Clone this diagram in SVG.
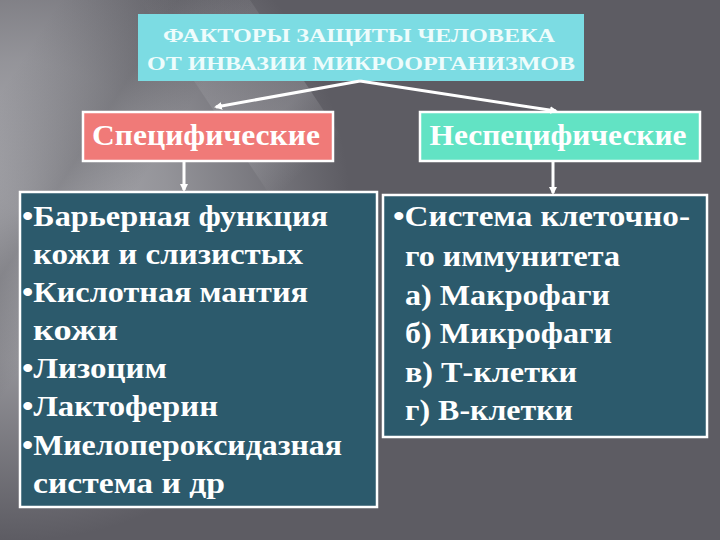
<svg xmlns="http://www.w3.org/2000/svg" width="720" height="540" viewBox="0 0 720 540">
<defs>
<radialGradient id="lightL" cx="20" cy="210" r="330" gradientUnits="userSpaceOnUse">
<stop offset="0" stop-color="#b4b4b9" stop-opacity="1"/>
<stop offset="0.45" stop-color="#a2a2a7" stop-opacity="0.8"/>
<stop offset="1" stop-color="#a2a2a7" stop-opacity="0"/>
</radialGradient>
<linearGradient id="dark" x1="60" y1="0" x2="200" y2="90" gradientUnits="userSpaceOnUse">
<stop offset="0" stop-color="#4a4a50" stop-opacity="0"/>
<stop offset="0.6" stop-color="#4a4a50" stop-opacity="0.35"/>
<stop offset="1" stop-color="#4a4a50" stop-opacity="0"/>
</linearGradient>
<linearGradient id="streak" x1="0" y1="0" x2="1" y2="1">
<stop offset="0" stop-color="#b8b8bd" stop-opacity="0"/>
<stop offset="0.45" stop-color="#b8b8bd" stop-opacity="0.35"/>
<stop offset="0.6" stop-color="#b8b8bd" stop-opacity="0"/>
</linearGradient>
<marker id="ah" markerWidth="8" markerHeight="8" refX="6" refY="4" orient="auto" markerUnits="userSpaceOnUse">
<path d="M0,0 L8,4 L0,8 z" fill="#ffffff"/>
</marker>
<style>
.box{stroke:#ffffff;stroke-width:2.5}
.title{font-size:19px}
.hdr{font-size:30px}
.item{font-size:29px}
.conn{stroke:#ffffff;stroke-width:3;fill:none;marker-end:url(#ah)}
</style>
</defs>
<rect x="0" y="0" width="720" height="540" fill="#5d5c63"/>
<rect x="0" y="0" width="720" height="540" fill="url(#lightL)"/>
<rect x="0" y="0" width="720" height="540" fill="url(#dark)"/>
<polygon points="140,0 250,0 430,270 320,270" fill="url(#streak)" opacity="0.8"/>

<g id="title" font-family="Liberation Serif, serif" font-weight="bold" fill="#eefcfc">
<rect x="138" y="14" width="446" height="67" fill="#7cdce3"/>
<text class="title" x="359" y="42" text-anchor="middle" textLength="392" lengthAdjust="spacingAndGlyphs">ФАКТОРЫ ЗАЩИТЫ ЧЕЛОВЕКА</text>
<text class="title" x="361" y="70" text-anchor="middle" textLength="428" lengthAdjust="spacingAndGlyphs">ОТ ИНВАЗИИ МИКРООРГАНИЗМОВ</text>
</g>

<g id="specific" font-family="Liberation Serif, serif" font-weight="bold" fill="#ffffff">
<rect class="box" x="83" y="112" width="250" height="49" fill="#f07a78"/>
<text class="hdr" x="206" y="145" text-anchor="middle" textLength="228" lengthAdjust="spacingAndGlyphs">Специфические</text>
</g>

<g id="nonspecific" font-family="Liberation Serif, serif" font-weight="bold" fill="#ffffff">
<rect class="box" x="420" y="112" width="280" height="49" fill="#62e3c4"/>
<text class="hdr" x="558" y="145" text-anchor="middle" textLength="257" lengthAdjust="spacingAndGlyphs">Неспецифические</text>
</g>

<g id="specific-list" font-family="Liberation Serif, serif" font-weight="bold" fill="#ffffff">
<rect class="box" x="20" y="192" width="357" height="315" fill="#2c5a6c"/>
<text class="item" x="22" y="226" textLength="306" lengthAdjust="spacingAndGlyphs">•Барьерная функция</text>
<text class="item" x="33" y="264" textLength="270" lengthAdjust="spacingAndGlyphs">кожи и слизистых</text>
<text class="item" x="22" y="302" textLength="286" lengthAdjust="spacingAndGlyphs">•Кислотная мантия</text>
<text class="item" x="33" y="340" textLength="85" lengthAdjust="spacingAndGlyphs">кожи</text>
<text class="item" x="22" y="378" textLength="145" lengthAdjust="spacingAndGlyphs">•Лизоцим</text>
<text class="item" x="22" y="416" textLength="196" lengthAdjust="spacingAndGlyphs">•Лактоферин</text>
<text class="item" x="22" y="455" textLength="320" lengthAdjust="spacingAndGlyphs">•Миелопероксидазная</text>
<text class="item" x="33" y="493" textLength="192" lengthAdjust="spacingAndGlyphs">система и др</text>
</g>

<g id="nonspecific-list" font-family="Liberation Serif, serif" font-weight="bold" fill="#ffffff">
<rect class="box" x="383" y="195" width="324" height="242" fill="#2c5a6c"/>
<text class="item" x="393" y="226" textLength="297" lengthAdjust="spacingAndGlyphs">•Система клеточно-</text>
<text class="item" x="405" y="266" textLength="215" lengthAdjust="spacingAndGlyphs">го иммунитета</text>
<text class="item" x="405" y="305" textLength="205" lengthAdjust="spacingAndGlyphs">а) Макрофаги</text>
<text class="item" x="405" y="343" textLength="207" lengthAdjust="spacingAndGlyphs">б) Микрофаги</text>
<text class="item" x="405" y="382" textLength="172" lengthAdjust="spacingAndGlyphs">в) Т-клетки</text>
<text class="item" x="405" y="420" textLength="168" lengthAdjust="spacingAndGlyphs">г) В-клетки</text>
</g>

<g id="connectors">
<line class="conn" x1="360" y1="81" x2="216" y2="107"/>
<line class="conn" x1="360" y1="81" x2="556" y2="111"/>
<line class="conn" x1="184" y1="162" x2="184" y2="190"/>
<line class="conn" x1="553" y1="162" x2="553" y2="193"/>
</g>
</svg>
